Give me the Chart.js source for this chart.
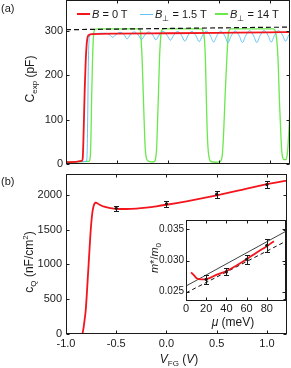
<!DOCTYPE html>
<html>
<head>
<meta charset="utf-8">
<script src="https://cdn.jsdelivr.net/npm/chart.js@4.4.1/dist/chart.umd.min.js"></script>
<style>
  html, body { margin: 0; padding: 0; background: #fff; }
  #wrap { position: relative; width: 291px; height: 368px; overflow: hidden;
          font-family: "Liberation Sans", Arial, sans-serif; color: #1a1a1a; }
  .box { position: absolute; }
  .txt { position: absolute; white-space: nowrap; line-height: 1; font-size: 12px; }
  .ctr { transform: translate(-50%, -50%); }
  .rot { transform: translate(-50%, -50%) rotate(-90deg); }
  sub, sup { font-size: 8px; line-height: 0; }
  .sw { position: absolute; height: 2px; }
</style>
</head>
<body>
<div id="wrap">
  <div class="box" style="left:0;top:0"><canvas id="cA" width="291" height="170"></canvas></div>
  <div class="box" style="left:0;top:170px"><canvas id="cB" width="291" height="198"></canvas></div>
  <div class="box" style="left:140px;top:212px"><canvas id="cC" width="150" height="118"></canvas></div>

  <div class="txt" style="left:1px;top:3px;font-size:11px">(a)</div>
  <div class="txt" style="left:1px;top:176px;font-size:11px">(b)</div>

  <div class="txt rot" style="left:30px;top:79px">C<sub>exp</sub> (pF)</div>
  <div class="txt rot" style="left:29px;top:262px">c<sub>Q</sub> (nF/cm<sup>2</sup>)</div>
  <div class="txt ctr" style="left:179px;top:359px"><i>V</i><sub>FG</sub> (<i>V</i>)</div>
  <div class="txt rot" style="left:154px;top:258px;font-size:11px"><i>m</i>*/<i>m</i><sub>0</sub></div>
  <div class="txt ctr" style="left:233px;top:322px"><i>μ</i> (meV)</div>

  <div id="legend"></div>
</div>

<script>
// ---- panel (a): measured capacitance vs gate voltage ----
const vTicks = [-1.0, -0.5, 0.0, 0.5, 1.0];
const capTicks = [0, 100, 200, 300];

const vB0 = [-1.0, -0.9, -0.845, -0.836, -0.826, -0.816, -0.806, -0.797, -0.788, -0.775, -0.74, -0.5, 0.0, 0.5, 1.0, 1.2];
const cB0 = [4, 5, 7, 12, 80, 170, 235, 270, 286, 291, 293, 294, 295, 296, 297, 297.5];

const vB15 = [-1.0, -0.9, -0.80, -0.792, -0.786, -0.781, -0.776, -0.77, -0.76, -0.72, -0.66, -0.61, -0.575, -0.541, -0.51,
  -0.47, -0.43, -0.40, -0.37, -0.329, -0.29, -0.258, -0.227, -0.187, -0.148, -0.117, -0.086, -0.046, -0.006, 0.025, 0.056,
  0.096, 0.136, 0.167, 0.198, 0.237, 0.277, 0.308, 0.339, 0.379, 0.419, 0.45, 0.481, 0.52, 0.56, 0.591, 0.622,
  0.662, 0.702, 0.733, 0.764, 0.803, 0.843, 0.874, 0.905, 0.945, 0.985, 1.016, 1.047, 1.086, 1.126, 1.157, 1.188, 1.2];
const cB15 = [4, 5, 6, 30, 120, 220, 270, 286, 292, 294, 295, 295, 292, 286, 292,
  297, 292, 282, 291, 298, 291, 281, 291, 298, 291, 280, 291, 299, 290, 279, 290,
  299, 290, 277, 290, 299, 289, 276, 289, 300, 289, 275, 289, 300, 289, 274, 289,
  300, 289, 274, 289, 301, 289, 274, 289, 301, 290, 275, 290, 301, 291, 277, 291, 294];

const vB14 = [-1.0, -0.9, -0.775, -0.762, -0.755, -0.748, -0.74, -0.732, -0.724, -0.712, -0.69,
  -0.28, -0.268, -0.262, -0.252, -0.24, -0.23, -0.222, -0.212, -0.195, -0.16, -0.13, -0.118, -0.11, -0.103, -0.093, -0.082, -0.072, -0.062, -0.045,
  0.33, 0.345, 0.36, 0.37, 0.378, 0.386, 0.395, 0.405, 0.42, 0.47, 0.51, 0.53, 0.54, 0.55, 0.562, 0.578, 0.59, 0.60, 0.62,
  1.04, 1.055, 1.07, 1.083, 1.095, 1.108, 1.117, 1.125, 1.14, 1.16, 1.172, 1.18, 1.19, 1.2];
const cB14 = [4, 5, 6, 15, 60, 150, 230, 280, 300, 304, 305,
  305, 300, 280, 235, 150, 80, 35, 15, 7, 5, 6, 15, 35, 80, 150, 235, 280, 300, 305,
  305, 300, 280, 230, 150, 80, 35, 15, 6, 4, 5, 12, 35, 80, 150, 230, 280, 300, 305,
  305, 300, 280, 235, 150, 80, 35, 18, 10, 10, 20, 40, 80, 129];

const vDash = [-1.0, 1.2];
const cDash = [303, 309];

// ---- panel (b): quantum capacitance ----
const cqTicks = [0, 500, 1000, 1500, 2000];
const vCq = [-1.0, -0.84, -0.835, -0.825, -0.815, -0.805, -0.795, -0.785, -0.775, -0.765, -0.755, -0.745, -0.735, -0.725,
  -0.715, -0.705, -0.695, -0.685, -0.67, -0.65, -0.62, -0.58, -0.54, -0.50, -0.45, -0.40, -0.30, -0.20, -0.10,
  0.0, 0.1, 0.2, 0.3, 0.4, 0.5, 0.6, 0.7, 0.8, 0.9, 1.0, 1.1, 1.2];
const cq = [0, 0, 10, 90, 200, 320, 520, 760, 1000, 1240, 1470, 1650, 1770, 1840,
  1875, 1887, 1885, 1876, 1862, 1847, 1830, 1815, 1805, 1800, 1797, 1797, 1803, 1817, 1836,
  1858, 1882, 1908, 1935, 1964, 1994, 2025, 2057, 2090, 2122, 2153, 2180, 2205];
const vPts = [-0.5, 0.0, 0.5, 1.0];
const cqPts = [1808, 1872, 2010, 2148];
const cqErr = [38, 40, 48, 52];

// ---- inset: effective mass vs chemical potential ----
const muTicks = [0, 20, 40, 60, 80];
const massTicks = [0.025, 0.030, 0.035];
const muCurve = [5, 8, 11, 15, 20, 25, 30, 40, 50, 60, 70, 80, 87];
const mCurve = [0.0281, 0.0276, 0.0271, 0.02698, 0.02702, 0.0273, 0.0277, 0.0283, 0.0292, 0.0302, 0.0313, 0.0323, 0.0331];
const muPts = [20, 40, 60, 80];
const mPts = [0.02697, 0.02816, 0.0302, 0.03243];
const mErr = [0.00072, 0.00056, 0.00076, 0.0011];
const muSolid = [0, 99];
const mSolid = [0.0259, 0.0347];
const muDash = [0, 99];
const mDash = [0.0248, 0.0331];

const red = "#f2151c";
const blue = "#62c3f5";
const green = "#6ae84c";
const ink = "#1a1a1a";

const legendItems = [
  { color: red, html: "<i>B</i> = 0 T", x: 77, w: 2 },
  { color: blue, html: "<i>B</i><sub>⊥</sub> = 1.5 T", x: 140, w: 1 },
  { color: green, html: "<i>B</i><sub>⊥</sub> = 14 T", x: 215, w: 1.5 }
];

Chart.defaults.font.family = '"Liberation Sans", Arial, sans-serif';
Chart.defaults.font.size = 11;
Chart.defaults.color = ink;

const pts = (xs, ys) => xs.map((x, i) => ({ x, y: ys[i] }));
const fixTicks = list => scale => { scale.ticks = list.map(v => ({ value: v })); };
const noPad = s => { s.paddingTop = 0; s.paddingBottom = 0; s.paddingLeft = 0; s.paddingRight = 0; };

// box round the plot with inward ticks on all four sides
const frame = {
  id: "frame",
  afterDatasetsDraw(chart) {
    const { ctx, chartArea: a, scales: { x, y } } = chart;
    const L = Math.round(a.left) + 0.5, R = Math.round(a.right) - 0.5;
    const T = Math.round(a.top) + 0.5, B = Math.round(a.bottom) - 0.5;
    const len = 3;
    ctx.save();
    ctx.strokeStyle = ink;
    ctx.lineWidth = 1;
    ctx.strokeRect(L, T, R - L, B - T);
    ctx.beginPath();
    x.ticks.forEach(t => {
      const px = Math.round(x.getPixelForValue(t.value)) + 0.5;
      ctx.moveTo(px, B); ctx.lineTo(px, B - len);
      ctx.moveTo(px, T); ctx.lineTo(px, T + len);
    });
    y.ticks.forEach(t => {
      const py = Math.round(y.getPixelForValue(t.value)) + 0.5;
      ctx.moveTo(L, py); ctx.lineTo(L + len, py);
      ctx.moveTo(R, py); ctx.lineTo(R - len, py);
    });
    ctx.stroke();
    ctx.restore();
  }
};

// vertical error bars for datasets that carry yErr
const errBars = {
  id: "errBars",
  afterDatasetsDraw(chart) {
    const { ctx, scales: { y } } = chart;
    chart.data.datasets.forEach((ds, i) => {
      if (!ds.yErr) return;
      const meta = chart.getDatasetMeta(i);
      ctx.save();
      ctx.strokeStyle = ink;
      ctx.lineWidth = 1;
      meta.data.forEach((p, j) => {
        const v = ds.data[j].y, e = ds.yErr[j];
        const top = Math.round(y.getPixelForValue(v + e)) + 0.5;
        const bot = Math.round(y.getPixelForValue(v - e)) + 0.5;
        const px = Math.round(p.x) + 0.5;
        ctx.beginPath();
        ctx.moveTo(px, top); ctx.lineTo(px, bot);
        ctx.moveTo(px - 2.5, top); ctx.lineTo(px + 2.5, top);
        ctx.moveTo(px - 2.5, bot); ctx.lineTo(px + 2.5, bot);
        ctx.stroke();
      });
      ctx.restore();
    });
  }
};

function axis(min, max, ticks, extra) {
  return Object.assign({
    type: "linear", min, max,
    grid: { display: false, drawTicks: false },
    border: { display: false },
    afterBuildTicks: fixTicks(ticks)
  }, extra);
}

function baseOptions(pad, scales) {
  return {
    responsive: false,
    animation: false,
    layout: { padding: pad },
    elements: { point: { radius: 0 }, line: { cubicInterpolationMode: "monotone", fill: false } },
    plugins: { legend: { display: false }, tooltip: { enabled: false } },
    scales
  };
}

// panel (a)
new Chart(document.getElementById("cA"), {
  type: "line",
  data: {
    datasets: [
      { data: pts(vDash, cDash), borderColor: "#111", borderWidth: 1.2, borderDash: [5, 3], order: 0 },
      { label: "B = 0 T", data: pts(vB0, cB0), borderColor: red, borderWidth: 1.8, order: 1 },
      { label: "B⊥ = 1.5 T", data: pts(vB15, cB15), borderColor: blue, borderWidth: 1, order: 2 },
      { label: "B⊥ = 14 T", data: pts(vB14, cB14), borderColor: green, borderWidth: 1.3, order: 3 }
    ]
  },
  options: baseOptions({ top: 0, right: 1, left: 0, bottom: 0 }, {
    x: axis(-1.0, 1.2, vTicks, { ticks: { display: false }, afterFit: s => { s.height = 6; noPad(s); } }),
    y: axis(0, 370, capTicks, { ticks: { padding: 3, callback: v => String(v) }, afterFit: s => { s.width = 66; noPad(s); } })
  }),
  plugins: [frame]
});

// panel (b)
new Chart(document.getElementById("cB"), {
  type: "line",
  data: {
    datasets: [
      { data: pts(vPts, cqPts), yErr: cqErr, showLine: false, pointRadius: 1.6, pointBackgroundColor: ink, pointBorderWidth: 0, order: 0 },
      { data: pts(vCq, cq), borderColor: red, borderWidth: 1.8, order: 1 }
    ]
  },
  options: baseOptions({ top: 2, right: 1, left: 0, bottom: 0 }, {
    x: axis(-1.0, 1.2, vTicks, { ticks: { padding: 3, callback: v => v.toFixed(1) }, afterFit: s => { s.height = 34; noPad(s); } }),
    y: axis(0, 2300, cqTicks, { ticks: { padding: 4, callback: v => String(v) }, afterFit: s => { s.width = 66; noPad(s); } })
  }),
  plugins: [errBars, frame]
});

// inset
new Chart(document.getElementById("cC"), {
  type: "line",
  data: {
    datasets: [
      { data: pts(muPts, mPts), yErr: mErr, showLine: false, pointRadius: 1.6, pointBackgroundColor: ink, pointBorderWidth: 0, order: 0 },
      { data: pts(muCurve, mCurve), borderColor: red, borderWidth: 1.8, order: 1 },
      { data: pts(muSolid, mSolid), borderColor: "#111", borderWidth: 0.8, order: 2 },
      { data: pts(muDash, mDash), borderColor: "#111", borderWidth: 1, borderDash: [4, 3], order: 3 }
    ]
  },
  options: baseOptions({ top: 8, right: 3, left: 0, bottom: 0 }, {
    x: axis(0, 99, muTicks, { ticks: { padding: 1 }, afterFit: s => { s.height = 29; noPad(s); } }),
    y: axis(0.0235, 0.0365, massTicks, { ticks: { padding: 2, font: { size: 10 }, callback: v => v.toFixed(3) }, afterFit: s => { s.width = 46; noPad(s); } })
  }),
  plugins: [errBars, frame]
});

// legend inside panel (a)
const $legend = document.getElementById("legend");
$legend.innerHTML = legendItems.map(it => `
  <div class="sw" style="left:${it.x}px;top:${14 - it.w / 2}px;width:13px;height:${it.w}px;background:${it.color}"></div>
  <div class="txt" style="left:${it.x + 15}px;top:9px;font-size:11px">${it.html}</div>
`).join("");
</script>
</body>
</html>
